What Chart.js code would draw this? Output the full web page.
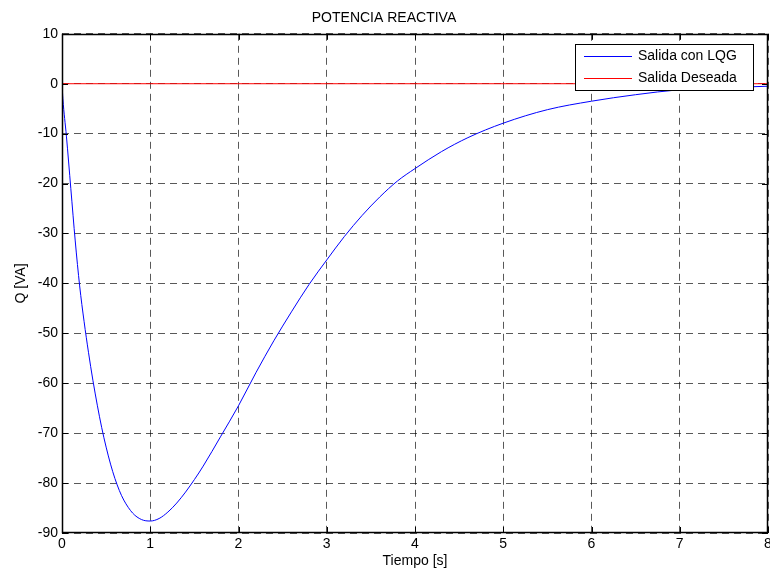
<!DOCTYPE html>
<html>
<head>
<meta charset="utf-8">
<script src="https://cdn.jsdelivr.net/npm/chart.js@4.4.1/dist/chart.umd.min.js"></script>
<style>
  html, body { margin: 0; padding: 0; background: #fff; }
  #wrap { width: 770px; height: 573px; }
</style>
</head>
<body>
<div id="wrap"><canvas id="c" width="770" height="573"></canvas></div>
<script>
// ---- data ----
const chartTitle = "POTENCIA REACTIVA";
const xAxisLabel = "Tiempo [s]";
const yAxisLabel = "Q [VA]";
const seriesNames = ["Salida con LQG", "Salida Deseada"];

const timeLQG = [0, 0.01, 0.05, 0.1, 0.15, 0.2, 0.25, 0.3, 0.35, 0.4, 0.45, 0.5, 0.55, 0.6, 0.65, 0.7, 0.8, 0.9, 1.0,
  1.1, 1.2, 1.3, 1.4, 1.5, 1.6, 1.8, 2.0, 2.2, 2.4, 2.6, 2.8, 3.0, 3.2, 3.4, 3.6, 3.8, 4.0, 4.3, 4.6, 5.0,
  5.5, 6.0, 6.5, 7.0, 7.5, 8.0];
const valuesLQG = [0, -3, -10.5, -21, -31.5, -40.5, -47.6, -53.8, -59.4, -64.4, -68.9, -72.8, -76.2, -79.1, -81.5, -83.4, -86.0, -87.3, -87.6,
  -87.1, -85.8, -84, -81.8, -79.3, -76.6, -70.6, -64.5, -57.8, -51.5, -45.7, -40.2, -35.3, -30.6, -26.4, -22.7, -19.5, -17, -13.6, -10.8, -7.9,
  -5.2, -3.5, -2.2, -1.2, -0.8, -0.5];

const timeRef = [0, 8];
const valuesRef = [0, 0];

const xTicks = [0, 1, 2, 3, 4, 5, 6, 7, 8];
const yTicks = [10, 0, -10, -20, -30, -40, -50, -60, -70, -80, -90];

const FONT = "Arial, 'Liberation Sans', Helvetica, sans-serif";

function toPoints(xs, ys) { return xs.map((x, i) => ({ x: x, y: ys[i] })); }

// frame + inner ticks + legend (MATLAB style)
const matlabDecor = {
  id: 'matlabDecor',
  afterDraw(chart) {
    const ctx = chart.ctx;
    const a = chart.chartArea;
    const xs = chart.scales.x, ys = chart.scales.y;
    ctx.save();
    ctx.strokeStyle = '#000';
    ctx.lineWidth = 1;
    // inner ticks
    ctx.beginPath();
    xTicks.forEach(v => {
      const px = Math.round(xs.getPixelForValue(v)) + 0.5;
      ctx.moveTo(px, a.bottom); ctx.lineTo(px, a.bottom - 6);
      ctx.moveTo(px, a.top); ctx.lineTo(px, a.top + 6);
    });
    yTicks.forEach(v => {
      const py = Math.round(ys.getPixelForValue(v)) + 0.5;
      ctx.moveTo(a.left, py); ctx.lineTo(a.left + 6, py);
      ctx.moveTo(a.right, py); ctx.lineTo(a.right - 6, py);
    });
    ctx.stroke();
    // frame
    ctx.lineWidth = 1.5;
    ctx.strokeRect(Math.round(a.left) + 0.5, Math.round(a.top) + 0.5,
      Math.round(a.right - a.left) - 1, Math.round(a.bottom - a.top) - 1);
    // legend
    const lx = 575, ly = 44, lw = 178, lh = 46;
    ctx.fillStyle = '#fff';
    ctx.fillRect(lx, ly, lw, lh);
    ctx.lineWidth = 1;
    ctx.strokeStyle = '#000';
    ctx.strokeRect(lx + 0.5, ly + 0.5, lw, lh);
    ctx.font = "14px " + FONT;
    ctx.textBaseline = 'middle';
    ctx.textAlign = 'left';
    chart.data.datasets.forEach((ds, i) => {
      const yy = ly + 11.5 + i * 22;
      ctx.strokeStyle = ds.borderColor;
      ctx.beginPath();
      ctx.moveTo(lx + 9, Math.round(yy) + 0.5);
      ctx.lineTo(lx + 57, Math.round(yy) + 0.5);
      ctx.stroke();
      ctx.fillStyle = '#000';
      ctx.fillText(ds.label, lx + 63, yy + 1);
    });
    ctx.restore();
  }
};

new Chart(document.getElementById('c'), {
  type: 'line',
  data: {
    datasets: [
      {
        label: seriesNames[0],
        data: toPoints(timeLQG, valuesLQG),
        borderColor: '#0000ff',
        borderWidth: 1,
        pointRadius: 0,
        fill: false,
        cubicInterpolationMode: 'monotone'
      },
      {
        label: seriesNames[1],
        data: toPoints(timeRef, valuesRef),
        borderColor: '#ff0000',
        borderWidth: 1,
        pointRadius: 0,
        fill: false
      }
    ]
  },
  options: {
    responsive: false,
    animation: false,
    devicePixelRatio: 1,
    layout: { padding: { left: 0, right: 2, top: 0, bottom: 0 } },
    plugins: {
      legend: { display: false },
      tooltip: { enabled: false },
      title: {
        display: true,
        text: chartTitle,
        color: '#000',
        font: { family: FONT, size: 14, weight: 'normal' },
        padding: { top: 10, bottom: 7 }
      }
    },
    scales: {
      x: {
        type: 'linear',
        min: 0, max: 8,
        afterBuildTicks(scale) { scale.ticks = xTicks.map(v => ({ value: v })); },
        afterFit(scale) { scale.height = 40; scale.paddingLeft = 0; scale.paddingRight = 0; },
        ticks: { color: '#000', font: { family: FONT, size: 14 }, padding: 3, maxRotation: 0, autoSkip: false },
        grid: { color: 'rgba(0,0,0,0.65)', lineWidth: 1, drawTicks: false },
        border: { display: false, dash: [7, 5] },
        title: { display: true, text: xAxisLabel, color: '#000', font: { family: FONT, size: 14 }, padding: { top: 0, bottom: 3 } }
      },
      y: {
        type: 'linear',
        min: -90, max: 10,
        afterBuildTicks(scale) { scale.ticks = yTicks.slice().reverse().map(v => ({ value: v })); },
        afterFit(scale) { scale.width = 62; scale.paddingTop = 0; scale.paddingBottom = 0; },
        ticks: { color: '#000', font: { family: FONT, size: 14 }, padding: 4, autoSkip: false },
        grid: { color: 'rgba(0,0,0,0.65)', lineWidth: 1, drawTicks: false },
        border: { display: false, dash: [7, 5] },
        title: { display: true, text: yAxisLabel, color: '#000', font: { family: FONT, size: 14 }, padding: { top: 13, bottom: 0 } }
      }
    }
  },
  plugins: [matlabDecor]
});
</script>
</body>
</html>
